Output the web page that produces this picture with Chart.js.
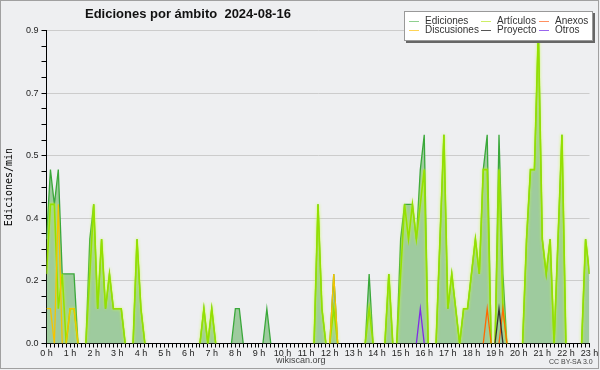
<!DOCTYPE html>
<html lang="es">
<head>
  <meta charset="UTF-8" />
  <title>Ediciones por ámbito 2024-08-16</title>
  <script src="https://cdn.jsdelivr.net/npm/chart.js"></script>
  <style>
    body { margin: 0; background: #eeeff1; font-family: "Liberation Sans", Arial, sans-serif; }
    #wrap { position: relative; width: 600px; height: 370px; overflow: hidden; }
    canvas { position: absolute; left: 0; top: 0; }
    .title { position: absolute; left: 85px; top: 7px; font-size: 13px; line-height: 13px; font-weight: bold; color: #111; white-space: pre; }
    .legend {
      position: absolute; left: 404px; top: 11px; width: 187px; height: 28px;
      background: #fff; border: 1px solid #999; box-shadow: 2px 2px 0 #666;
    }
    .item { position: absolute; font-size: 10px; line-height: 10px; color: #333; white-space: nowrap; }
    .item i { position: absolute; left: -16px; top: 5px; width: 10px; height: 1px; }
    .foot { position: absolute; font-size: 9px; line-height: 9px; color: #444; }
  </style>
</head>
<body>
<div id="wrap">
  <canvas id="chart" width="600" height="370"></canvas>
  <div class="title">Ediciones por ámbito  2024-08-16</div>
  <div class="legend" id="legend"></div>
  <div class="foot" style="left:276px; top:356px;">wikiscan.org</div>
  <div class="foot" style="left:549px; top:358px; font-size:7px; line-height:7px;">CC BY-SA 3.0</div>
</div>

<script>
  // bins de 10 minutos, de 0:00 a 23:00
  const binMinutes = 10;
  const hourLabels = ['0 h','1 h','2 h','3 h','4 h','5 h','6 h','7 h','8 h','9 h','10 h','11 h',
    '12 h','13 h','14 h','15 h','16 h','17 h','18 h','19 h','20 h','21 h','22 h','23 h'];
  const yTickValues = [0, 0.18, 0.36, 0.54, 0.72, 0.9];
  const yTickLabels = ['0.0', '0.2', '0.4', '0.5', '0.7', '0.9'];

  const seriesNames = ['Ediciones', 'Artículos', 'Anexos', 'Discusiones', 'Proyecto', 'Otros'];
  const seriesColors = ['#3aa83a', '#95e000', '#ff6a00', '#f5c400', '#333333', '#7f2be6'];
  const legendColors = ['#8fcf8f', '#cdee66', '#ff9060', '#ffd455', '#555555', '#9966ee'];

  const ediciones = [
    .3,.5,.4,.5,.2,.2,.2,.2,0,0,
    0,.3,.4,.1,.3,.1,.2,.1,.1,.1,
    0,0,0,.3,.1,0,0,0,0,0,
    0,0,0,0,0,0,0,0,0,0,
    .1,0,.1,0,0,0,0,0,.1,.1,
    0,0,0,0,0,0,.1,0,0,0,
    0,0,0,0,0,0,0,0,0,.4,
    .1,0,0,.2,0,0,0,0,0,0,
    0,0,.2,0,0,0,0,.2,0,0,
    .3,.4,.4,.4,.3,.5,.6,0,0,0,
    .3,.6,.1,.2,.1,0,.1,.1,.2,.3,
    .2,.5,.6,0,0,.6,.2,0,0,0,
    0,0,.3,.5,.5,.9,.3,.2,.3,0,
    .3,.6,0,0,0,0,0,.3,.2
  ];
  const articulos = [
    .2,.4,.4,.1,.2,0,.1,.1,0,0,
    0,.2,.4,.1,.3,.1,.2,.1,.1,.1,
    0,0,0,.3,.1,0,0,0,0,0,
    0,0,0,0,0,0,0,0,0,0,
    .1,0,.1,0,0,0,0,0,0,0,
    0,0,0,0,0,0,0,0,0,0,
    0,0,0,0,0,0,0,0,0,.4,
    .1,0,0,.1,0,0,0,0,0,0,
    0,0,.1,0,0,0,0,.2,0,0,
    .2,.4,.3,.4,.3,.4,.5,0,0,0,
    .3,.6,.1,.2,.1,0,.1,.1,.2,.3,
    .2,.5,.5,0,0,.5,.1,0,0,0,
    0,0,.3,.5,.5,.9,.3,.2,.3,0,
    .3,.6,0,0,0,0,0,.3,.2
  ];
  const anexos = [
    0,0,0,0,0,0,0,0,0,0, 0,0,0,0,0,0,0,0,0,0, 0,0,0,0,0,0,0,0,0,0,
    0,0,0,0,0,0,0,0,0,0, 0,0,0,0,0,0,0,0,0,0, 0,0,0,0,0,0,0,0,0,0,
    0,0,0,0,0,0,0,0,0,0, 0,0,0,0,0,0,0,0,0,0, 0,0,0,0,0,0,0,0,0,0,
    0,0,0,0,0,0,0,0,0,0, 0,0,0,0,0,0,0,0,0,0,
    0,0,.1,0,0,0,.1,0,0,0,
    0,0,0,0,0,0,0,0,0,0, 0,0,0,0,0,0,0,0,0
  ];
  const discusiones = [
    .1,.1,0,.4,0,0,.1,.1,0,0, 0,0,0,0,0,0,0,0,0,0, 0,0,0,0,0,0,0,0,0,0,
    0,0,0,0,0,0,0,0,0,0, 0,0,0,0,0,0,0,0,0,0, 0,0,0,0,0,0,0,0,0,0,
    0,0,0,0,0,0,0,0,0,0, 0,0,0,.2,0,0,0,0,0,0, 0,0,0,0,0,0,0,0,0,0,
    0,0,0,0,0,0,0,0,0,0, 0,0,0,0,0,0,0,0,0,0,
    0,0,0,0,0,0,0,0,0,0,
    0,0,0,0,0,0,0,0,0,0, 0,0,0,0,0,0,0,0,0
  ];
  const proyecto = [
    0,0,0,0,0,0,0,0,0,0, 0,0,0,0,0,0,0,0,0,0, 0,0,0,0,0,0,0,0,0,0,
    0,0,0,0,0,0,0,0,0,0, 0,0,0,0,0,0,0,0,0,0, 0,0,0,0,0,0,0,0,0,0,
    0,0,0,0,0,0,0,0,0,0, 0,0,0,0,0,0,0,0,0,0, 0,0,0,0,0,0,0,0,0,0,
    0,0,0,0,0,0,0,0,0,0, 0,0,0,0,0,0,0,0,0,0,
    0,0,0,0,0,.1,0,0,0,0,
    0,0,0,0,0,0,0,0,0,0, 0,0,0,0,0,0,0,0,0
  ];
  const otros = [
    0,0,0,0,0,0,0,0,0,0, 0,0,0,0,0,0,0,0,0,0, 0,0,0,0,0,0,0,0,0,0,
    0,0,0,0,0,0,0,0,0,0, 0,0,0,0,0,0,0,0,0,0, 0,0,0,0,0,0,0,0,0,0,
    0,0,0,0,0,0,0,0,0,0, 0,0,0,0,0,0,0,0,0,0, 0,0,0,0,0,0,0,0,0,0,
    0,0,0,0,0,.1,0,0,0,0, 0,0,0,0,0,0,0,0,0,0,
    0,0,0,0,0,0,0,0,0,0,
    0,0,0,0,0,0,0,0,0,0, 0,0,0,0,0,0,0,0,0
  ];

  const minutes = ediciones.map((_, i) => i * binMinutes);
  const seriesData = [ediciones, articulos, anexos, discusiones, proyecto, otros];
  const drawOrder = [6, 5, 2, 3, 1, 1];

  // leyenda en 3 columnas
  const legend = document.getElementById('legend');
  const colX = [20, 92, 150], rowY = [4, 13];
  seriesNames.forEach((name, i) => {
    const d = document.createElement('div');
    d.className = 'item';
    d.style.left = colX[i % 3] + 'px';
    d.style.top = rowY[Math.floor(i / 3)] + 'px';
    d.innerHTML = '<i style="background:' + legendColors[i] + '"></i>' + name;
    legend.appendChild(d);
  });

  const isMajor = v => yTickValues.some(t => Math.abs(t - v) < 1e-6);

  const bgPlugin = {
    id: 'bg',
    beforeDraw(chart) {
      const c = chart.ctx;
      c.save();
      c.fillStyle = '#eeeff1';
      c.fillRect(0, 0, chart.width, chart.height);
      c.strokeStyle = '#a0a0a0';
      c.lineWidth = 1;
      c.strokeRect(0.5, 0.5, chart.width - 2, chart.height - 2);
      c.restore();
    }
  };

  const glowPlugin = {
    id: 'glow',
    beforeDatasetDraw(chart, args) {
      const c = chart.ctx;
      c.save();
      if (args.index === 1) {
        c.shadowColor = 'rgba(200,255,60,0.9)';
        c.shadowBlur = 3;
      }
    },
    afterDatasetDraw(chart) {
      chart.ctx.restore();
    }
  };

  // no se dibuja el trazo sobre el eje cuando los dos extremos valen 0
  const hideFlatZero = ctx =>
    (ctx.p0.parsed.y === 0 && ctx.p1.parsed.y === 0) ? 'rgba(0,0,0,0)' : undefined;

  const datasets = seriesNames.map((name, i) => ({
    label: name,
    data: seriesData[i],
    borderColor: seriesColors[i],
    borderWidth: i === 1 ? 1.6 : 1.3,
    backgroundColor: i === 0 ? '#9ecb9e' : seriesColors[i],
    fill: i === 0 ? 'origin' : false,
    order: drawOrder[i],
    pointRadius: 0,
    tension: 0,
    segment: { borderColor: hideFlatZero }
  }));

  new Chart(document.getElementById('chart').getContext('2d'), {
    type: 'line',
    data: { labels: minutes, datasets: datasets },
    options: {
      responsive: false,
      animation: false,
      layout: { padding: { top: 30.5, right: 10.5, left: 0, bottom: 0 } },
      plugins: {
        legend: { display: false },
        title: { display: false },
        tooltip: { enabled: false }
      },
      scales: {
        x: {
          type: 'linear',
          min: 0,
          max: minutes[minutes.length - 1],
          z: 1,
          afterBuildTicks: axis => { axis.ticks = minutes.map(v => ({ value: v })); },
          afterFit: axis => { axis.height = 26.5; },
          grid: { display: true, drawOnChartArea: false, tickLength: 4, tickColor: '#000' },
          border: { color: '#000', width: 1 },
          ticks: {
            autoSkip: false, maxRotation: 0, minRotation: 0, padding: 1,
            color: '#222',
            font: { family: 'Liberation Sans', size: 9 },
            callback: v => (v % 60 === 0 ? hourLabels[v / 60] : '')
          }
        },
        y: {
          min: 0,
          max: 0.9,
          afterBuildTicks: axis => {
            const t = [];
            for (let k = 0; k < yTickValues.length - 1; k++) {
              const a = yTickValues[k], b = yTickValues[k + 1];
              for (let m = 0; m < 4; m++) t.push({ value: a + (b - a) * m / 4 });
            }
            t.push({ value: yTickValues[yTickValues.length - 1] });
            axis.ticks = t;
          },
          afterFit: axis => { axis.width = 46.5; },
          grid: {
            color: ctx => (isMajor(ctx.tick.value) ? '#cccccc' : 'rgba(0,0,0,0)'),
            tickColor: '#000',
            tickLength: 5
          },
          border: { color: '#000', width: 1 },
          title: {
            display: true,
            text: 'Ediciones/min',
            color: '#000',
            font: { family: 'DejaVu Sans Mono', size: 10 },
            padding: { top: 3, bottom: 0 }
          },
          ticks: {
            autoSkip: false, padding: 3,
            color: '#222',
            font: { family: 'Liberation Sans', size: 9 },
            callback: v => {
              const k = yTickValues.findIndex(t => Math.abs(t - v) < 1e-6);
              return k >= 0 ? yTickLabels[k] : '';
            }
          }
        }
      }
    },
    plugins: [bgPlugin, glowPlugin]
  });
</script>
</body>
</html>
